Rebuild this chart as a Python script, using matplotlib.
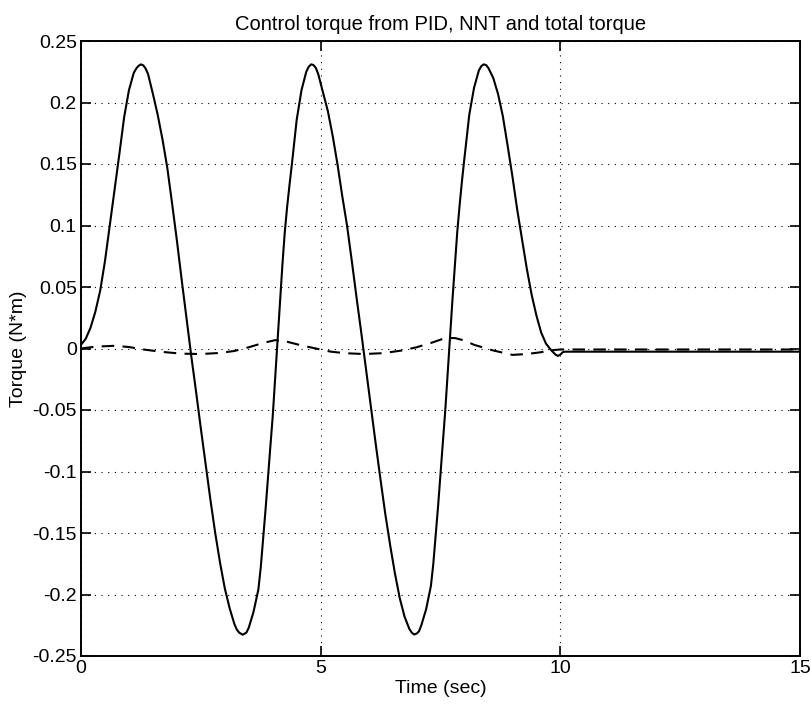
import matplotlib
matplotlib.use("Agg")
import matplotlib.pyplot as plt

plt.rcParams['font.family'] = ['Liberation Sans', 'DejaVu Sans']

# Total torque (solid)
t_total = [0.0, 0.1, 0.2, 0.3, 0.4, 0.5, 0.6, 0.7, 0.8, 0.9, 1.0, 1.1, 1.15, 1.2, 1.25, 1.3, 1.35,
           1.4, 1.5, 1.6, 1.7, 1.8, 1.9, 2.0, 2.1, 2.2, 2.3, 2.4, 2.5, 2.6, 2.7, 2.8,
           2.9, 3.0, 3.1, 3.2, 3.25, 3.3, 3.375, 3.45,
           3.5, 3.6, 3.7, 3.75, 3.8, 3.85, 3.9, 3.95, 4.0, 4.05, 4.1, 4.15, 4.2, 4.25,
           4.3, 4.35, 4.4, 4.5, 4.6, 4.7, 4.75, 4.8, 4.85, 4.9,
           4.95, 5.05, 5.15, 5.25, 5.35, 5.45, 5.55, 5.65, 5.75, 5.85, 5.95, 6.05,
           6.15, 6.25, 6.35, 6.45, 6.55, 6.65, 6.75, 6.85, 6.9, 6.95, 7.0, 7.05,
           7.1, 7.2, 7.3, 7.35, 7.4, 7.45, 7.5, 7.55, 7.6, 7.65, 7.7, 7.75, 7.8, 7.85,
           7.9, 7.95, 8.0, 8.1, 8.2, 8.3, 8.35, 8.4, 8.45,
           8.5, 8.6, 8.7, 8.8, 8.9, 9.0, 9.1, 9.2, 9.3, 9.4, 9.5, 9.6, 9.7, 9.8, 9.9,
           9.95, 10.0, 10.05, 10.1, 15.0]
v_total = [0.003, 0.008, 0.017, 0.030, 0.047, 0.071, 0.100, 0.129, 0.158, 0.188, 0.210, 0.224, 0.2275, 0.2298, 0.231, 0.2302, 0.2275,
           0.223, 0.207, 0.190, 0.170, 0.147, 0.118, 0.088, 0.056, 0.025, -0.006, -0.035, -0.065, -0.094, -0.123, -0.150,
           -0.174, -0.195, -0.211, -0.224, -0.2285, -0.231, -0.2327, -0.231,
           -0.227, -0.214, -0.196, -0.178, -0.155, -0.131, -0.105, -0.080, -0.055, -0.025, 0.006, 0.037, 0.067, 0.094,
           0.115, 0.133, 0.150, 0.186, 0.210, 0.225, 0.229, 0.231, 0.2305, 0.228,
           0.223, 0.208, 0.193, 0.173, 0.150, 0.124, 0.100, 0.071, 0.041, 0.012, -0.018, -0.048,
           -0.078, -0.107, -0.135, -0.160, -0.183, -0.203, -0.218, -0.228, -0.231, -0.2325, -0.2318, -0.230,
           -0.225, -0.212, -0.193, -0.175, -0.152, -0.128, -0.102, -0.077, -0.050, -0.020, 0.010, 0.040, 0.068, 0.095,
           0.117, 0.137, 0.155, 0.190, 0.212, 0.226, 0.2295, 0.231, 0.2305,
           0.228, 0.220, 0.207, 0.189, 0.165, 0.140, 0.113, 0.089, 0.065, 0.044, 0.027, 0.013, 0.004, -0.001, -0.005,
           -0.006, -0.005, -0.003, -0.0026, -0.0026]

# PID torque (dashed)
t_pid = [0.0, 0.3, 0.7, 1.0, 1.3, 1.7, 2.1, 2.5, 2.9, 3.2, 3.5, 3.8, 4.05, 4.25, 4.6, 4.9,
         5.2, 5.5, 5.9, 6.3, 6.7, 7.0, 7.3, 7.6, 7.8, 8.0, 8.2, 8.6, 9.0, 9.3, 9.6, 9.8,
         10.0, 10.2, 15.0]
v_pid = [0.0, 0.0015, 0.0022, 0.0012, -0.0008, -0.0028, -0.0042, -0.0045, -0.0036, -0.002, 0.001, 0.0045, 0.0068, 0.006, 0.0025, 0.0,
         -0.0025, -0.0038, -0.0045, -0.0038, -0.0016, 0.001, 0.0045, 0.0085, 0.0085, 0.0065, 0.003, -0.0016, -0.0052, -0.0045, -0.003, -0.0015,
         -0.0008, -0.0008, -0.0008]

x_ticks = [0, 5, 10, 15]
y_ticks = [-0.25, -0.2, -0.15, -0.1, -0.05, 0, 0.05, 0.1, 0.15, 0.2, 0.25]
y_labels = ['-0.25', '-0.2', '-0.15', '-0.1', '-0.05', '0', '0.05', '0.1', '0.15', '0.2', '0.25']

fig = plt.figure(figsize=(8.11, 7.09), dpi=100)
ax = fig.add_axes([81/811, 1 - 656/709, (800 - 81)/811, (656 - 41)/709])

ax.plot(t_total, v_total, color='black', linewidth=1.5, solid_joinstyle='round')
ax.plot(t_pid, v_pid, color='black', linewidth=1.5, linestyle=(0, (6, 4)))

ax.set_xlim(0, 15)
ax.set_ylim(-0.25, 0.25)
ax.set_xticks(x_ticks)
ax.set_xticklabels([str(v) for v in x_ticks])
ax.set_yticks(y_ticks)
ax.set_yticklabels(y_labels)
ax.grid(True, color='black', linestyle=(0, (1, 5)), linewidth=0.8)
ax.tick_params(direction='in', length=7, width=1.2, top=True, right=True,
               labelsize=14, pad=3)
for s in ax.spines.values():
    s.set_linewidth(1.4)

ax.set_title('Control torque from PID, NNT and total torque', fontsize=14.5, pad=8)
ax.set_xlabel('Time (sec)', fontsize=14, labelpad=2)
ax.set_ylabel('Torque (N*m)', fontsize=14, labelpad=4)

fig.savefig('out.png', dpi=100)
